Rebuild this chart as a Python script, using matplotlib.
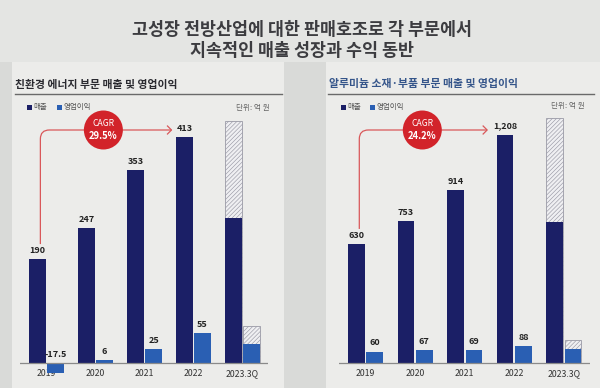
import matplotlib
matplotlib.use("Agg")
import matplotlib.pyplot as plt
from matplotlib.patches import Rectangle, Circle, PathPatch
from matplotlib.path import Path
from matplotlib.transforms import IdentityTransform

plt.rcParams["font.family"] = ["Noto Sans CJK KR", "DejaVu Sans"]
plt.rcParams["hatch.linewidth"] = 0.45

# ---- data (억 원) ----
years = ["2019", "2020", "2021", "2022", "2023.3Q"]
eco_sales = [190, 247, 353, 413, 265]
eco_op = [-17.5, 6, 25, 55, 35]
eco_sales_fcst = 442      # hatched top, 2023
eco_op_fcst = 68
alu_sales = [630, 753, 914, 1208, 746]
alu_op = [60, 67, 69, 88, 74]
alu_sales_fcst = 1296
alu_op_fcst = 122
eco_cagr = "29.5%"
alu_cagr = "24.2%"

NAVY = "#1b1f66"
BLUE = "#2a5fb3"
RED = "#d2232a"
W, H = 600, 388

fig = plt.figure(figsize=(6.0, 3.88), dpi=100)
fig.patch.set_facecolor("#d9dad8")

bg = fig.add_axes([0, 0, 1, 1], zorder=0)
bg.set_xlim(0, W); bg.set_ylim(H, 0); bg.axis("off")
bg.add_patch(Rectangle((0, 0), W, 62, facecolor="#e4e5e3", edgecolor="none"))
bg.add_patch(Rectangle((12, 62), 272, 330, facecolor="#ececea", edgecolor="none"))
bg.add_patch(Rectangle((326, 62), 280, 330, facecolor="#ececea", edgecolor="none"))

bg.text(302, 30, "고성장 전방산업에 대한 판매호조로 각 부문에서", ha="center", va="center",
        fontsize=12.5, fontweight="bold", color="#3c3c40")
bg.text(302, 51, "지속적인 매출 성장과 수익 동반", ha="center", va="center",
        fontsize=12.5, fontweight="bold", color="#3c3c40")

bg.text(15, 85, "친환경 에너지 부문 매출 및 영업이익", ha="left", va="center",
        fontsize=7.8, fontweight="bold", color="#2a2a30")
bg.plot([15, 282], [94, 94], color="#6a6a6a", lw=1.0)
bg.text(329, 84, "알루미늄 소재·부품 부문 매출 및 영업이익", ha="left", va="center",
        fontsize=7.8, fontweight="bold", color="#35558a")
bg.plot([328, 594], [94, 94], color="#6a6a6a", lw=1.0)


def legend(x0, y0, x1):
    bg.add_patch(Rectangle((x0, y0 - 2.5), 5, 5, facecolor=NAVY, edgecolor="none"))
    bg.text(x0 + 6.5, y0, "매출", ha="left", va="center", fontsize=5.4, color="#555")
    bg.add_patch(Rectangle((x1, y0 - 2.5), 5, 5, facecolor=BLUE, edgecolor="none"))
    bg.text(x1 + 6.5, y0, "영업이익", ha="left", va="center", fontsize=5.4, color="#555")


legend(27, 107, 57)
legend(341, 107, 370)
bg.text(270, 108, "단위: 억 원", ha="right", va="center", fontsize=5.5, color="#666")
bg.text(585, 106, "단위: 억 원", ha="right", va="center", fontsize=5.5, color="#666")

top = fig.add_axes([0, 0, 1, 1], zorder=3)
top.set_xlim(0, W); top.set_ylim(H, 0); top.axis("off")


def panel(xl, xr, scale, sales, op, sales_fcst, op_fcst, cagr, tip_gap):
    base_y, top_y, bot_y = 363, 110, 375
    ax = fig.add_axes([xl / W, 1 - bot_y / H, (xr - xl) / W, (bot_y - top_y) / H], zorder=2)
    ax.patch.set_alpha(0)
    ax.set_ylim(-(bot_y - base_y) / scale, (base_y - top_y) / scale)
    sp = (xr - xl) / 5.06
    first = 26.5 / sp
    ax.set_xlim(-first, 5.06 - first)
    ax.axis("off")
    off, bw = 0.185, 0.335
    n = len(years)
    xs = list(range(n))
    # hatched forecast parts of 2023
    ax.bar(n - 1 - off, sales_fcst, bw, facecolor="#efeff2", edgecolor="#9a9aa6",
           hatch="////////", lw=0.6, zorder=2)
    ax.bar(n - 1 + off, op_fcst, bw, facecolor="#efeff2", edgecolor="#9a9aa6",
           hatch="////////", lw=0.6, zorder=2)
    ax.bar([x - off for x in xs], sales, bw, color=NAVY, zorder=3)
    ax.bar([x + off for x in xs], op, bw, color=BLUE, zorder=3)
    ax.axhline(0, color="#8a8a8a", lw=0.9, zorder=4)
    for i in range(n):
        ax.annotate(years[i], (i, 0), xytext=(0, -4.5), textcoords="offset points",
                    ha="center", va="top", fontsize=6.3, color="#333", zorder=1)
    for i in range(n - 1):
        ax.annotate(f"{sales[i]:,}", (i - off, sales[i]), xytext=(0, 3), textcoords="offset points",
                    ha="center", va="bottom", fontsize=6.5, fontweight="bold", color="#222")
        ax.annotate(f"{op[i]:g}", (i + off, max(op[i], 0)), xytext=(0, 3), textcoords="offset points",
                    ha="center", va="bottom", fontsize=6.5, fontweight="bold", color="#222")
    # CAGR arrow (display coords)
    x0, yb = ax.transData.transform((0 - off + 0.06, sales[0]))
    yb += 15
    x3, _ = ax.transData.transform((3 - off, sales[3]))
    tip = x3 - tip_gap
    yh = (H - 130) * fig.dpi / 100
    r = 9
    verts = [(x0, yb), (x0, yh - r), (x0, yh), (x0 + r, yh), (tip, yh)]
    codes = [Path.MOVETO, Path.LINETO, Path.CURVE3, Path.CURVE3, Path.LINETO]
    top.add_patch(PathPatch(Path(verts, codes), transform=IdentityTransform(),
                            facecolor="none", edgecolor="#d9585a", lw=0.9))
    top.plot([tip - 4, tip, tip - 4], [yh + 4, yh, yh - 4], transform=IdentityTransform(),
             color="#d9585a", lw=0.9)
    cx = x0 + 63
    top.add_patch(Circle((cx, yh), 19.5, transform=IdentityTransform(), facecolor=RED,
                         edgecolor="none", zorder=5))
    top.text(cx, yh + 6, "CAGR", transform=IdentityTransform(), ha="center", va="center",
             fontsize=6.2, color="white", zorder=6)
    top.text(cx, yh - 6, cagr, transform=IdentityTransform(), ha="center", va="center",
             fontsize=6.8, fontweight="bold", color="white", zorder=6)
    return ax


panel(20, 268, 0.547, eco_sales, eco_op, eco_sales_fcst, eco_op_fcst, eco_cagr, 13)
panel(339, 590, 0.189, alu_sales, alu_op, alu_sales_fcst, alu_op_fcst, alu_cagr, 18)

fig.savefig("out.png", dpi=100, facecolor=fig.get_facecolor())
